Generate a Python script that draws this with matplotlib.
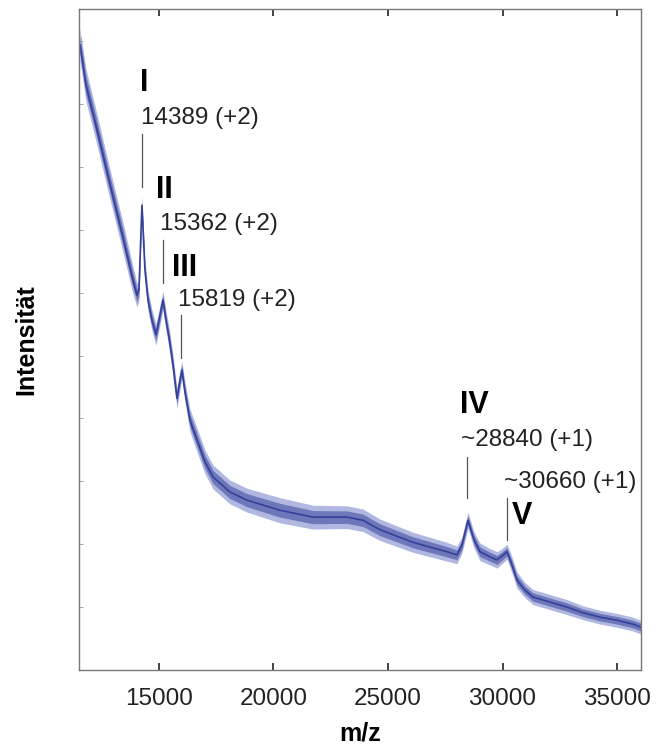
import numpy as np
import matplotlib
matplotlib.use("Agg")
import matplotlib.pyplot as plt

plt.rcParams['font.family'] = ['Liberation Sans', 'DejaVu Sans']

# spectrum: m/z, centre of the noisy trace, half width of the noise band
mz = [11562, 11824, 12260, 12827, 13438, 13874, 14049, 14136, 14267, 14398,
      14529, 14703, 14878, 15052, 15183, 15314, 15445, 15620, 15794, 15925,
      16012, 16143, 16361, 16667, 17016, 17365, 18106, 18848, 20288, 21728,
      23211, 23909, 24651, 26091, 27574, 28010, 28229, 28490, 28752, 29014,
      29450, 29756, 29974, 30192, 30410, 30628, 30977, 31326, 32068, 32810,
      33508, 34250, 34991, 35689, 36038]
intensity = [9.94, 9.30, 8.66, 7.79, 6.88, 6.20, 5.96, 6.04, 7.39, 6.36,
             5.88, 5.56, 5.33, 5.64, 5.88, 5.56, 5.29, 4.85, 4.32, 4.61,
             4.77, 4.42, 3.97, 3.66, 3.31, 3.07, 2.83, 2.70, 2.54, 2.43,
             2.43, 2.38, 2.23, 2.03, 1.88, 1.83, 1.99, 2.38, 2.07, 1.88,
             1.80, 1.75, 1.81, 1.88, 1.67, 1.43, 1.27, 1.16, 1.08, 1.00,
             0.91, 0.84, 0.79, 0.73, 0.68]
noise = [0.26, 0.26, 0.25, 0.24, 0.24, 0.22, 0.19, 0.17, 0.14, 0.16,
         0.17, 0.17, 0.17, 0.16, 0.15, 0.16, 0.17, 0.17, 0.16, 0.15,
         0.14, 0.16, 0.18, 0.19, 0.19, 0.19, 0.19, 0.19, 0.20, 0.19,
         0.18, 0.18, 0.17, 0.16, 0.15, 0.14, 0.13, 0.13, 0.13, 0.14,
         0.13, 0.13, 0.12, 0.12, 0.13, 0.13, 0.12, 0.12, 0.12, 0.12,
         0.11, 0.11, 0.11, 0.11, 0.11]

# peak labels: position of the marker line, numeral, mass text
peak_mz = [14267, 15183, 15969, 28447, 30192]
numerals = ['I', 'II', 'III', 'IV', 'V']
peak_text = ['14389 (+2)', '15362 (+2)', '15819 (+2)', '~28840 (+1)', '~30660 (+1)']

mz = np.array(mz)
intensity = np.array(intensity)
noise = np.array(noise)

fig = plt.figure(figsize=(6.56, 7.49), dpi=100)
ax = fig.add_axes([0.1204, 0.1055, 0.8567, 0.8825])

ax.fill_between(mz, intensity - noise, intensity + noise, color='#a3abdb',
                lw=0, alpha=0.85)
ax.fill_between(mz, intensity - noise * 0.55, intensity + noise * 0.55,
                color='#5c68b0', lw=0, alpha=0.8)
ax.plot(mz, intensity, color='#34409a', lw=1.2)

ax.set_xlim(11520, 36040)
ax.set_ylim(0, 10.51)

# marker lines (y ranges in axis units)
line_lo = [7.68, 6.15, 4.96, 2.73, 2.06]
line_hi = [8.52, 6.84, 5.64, 3.38, 2.73]
for x, lo, hi in zip(peak_mz, line_lo, line_hi):
    ax.plot([x, x], [lo, hi], color='#555555', lw=0.9)

# text positions (axis units)
num_xy = [(14180, 9.33), (14890, 7.63), (15580, 6.39), (28150, 4.21), (30410, 2.45)]
txt_xy = [(14230, 8.78), (15050, 7.09), (15820, 5.88), (28200, 3.65), (30080, 2.99)]
for n, (nx, ny), t, (tx, ty) in zip(numerals, num_xy, peak_text, txt_xy):
    ax.text(nx, ny, n, fontsize=22, fontweight='bold', ha='left', va='center')
    ax.text(tx, ty, t, fontsize=17.5, ha='left', va='center', color='#222222')

ax.set_xticks([15000, 20000, 25000, 30000, 35000])
ax.set_yticks(np.arange(0, 11))
ax.set_yticklabels([])
ax.tick_params(axis='x', direction='in', length=5, width=1.2, top=True,
               labelsize=17.5, pad=13, colors='#222222')
ax.tick_params(axis='y', direction='in', length=3, width=0.6, color='#999999')
for s in ax.spines.values():
    s.set_color('#777777')
    s.set_linewidth(1.0)

ax.set_xlabel('m/z', fontsize=18, fontweight='bold', labelpad=8)
ax.set_ylabel('Intensität', fontsize=18, fontweight='bold', labelpad=26)

fig.savefig('out.png', dpi=100)
